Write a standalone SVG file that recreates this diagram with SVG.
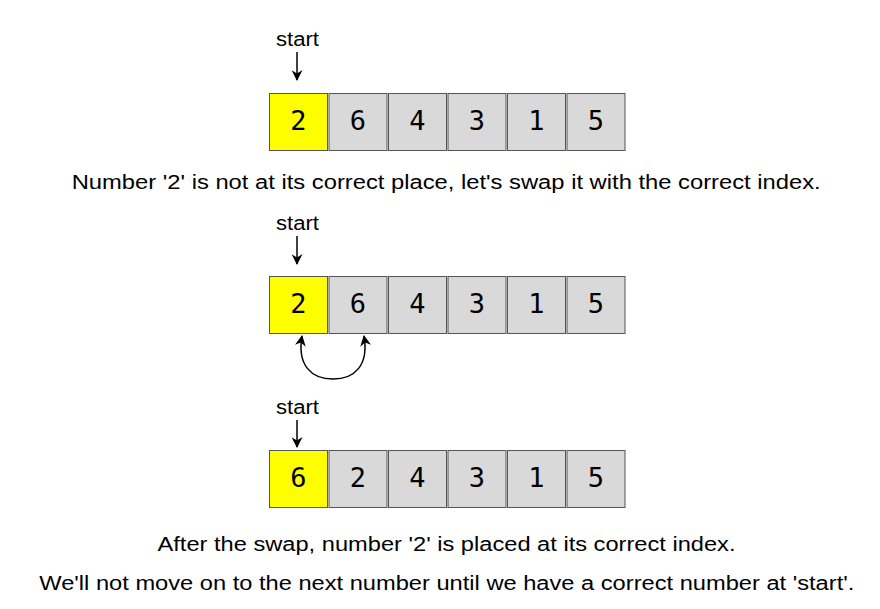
<svg xmlns="http://www.w3.org/2000/svg" width="880" height="609" viewBox="0 0 880 609">
<style>
.cell{fill:#d9d9d9;stroke:#555;stroke-width:1}
.hl{fill:#ffff00}
.num{font-family:"DejaVu Sans Mono",monospace;font-size:27px;text-anchor:middle;fill:#000}
.lbl{font-family:"Liberation Sans",Arial,sans-serif;font-size:20px;text-anchor:middle;fill:#000}
.ln{fill:none;stroke:#000;stroke-width:1.5}
</style>
<defs>
<marker id="ah" viewBox="0 0 10 10" refX="9" refY="5" markerWidth="12" markerHeight="11" orient="auto" markerUnits="userSpaceOnUse">
<path d="M0,0 L10,5 L0,10 L3,5 Z" fill="#000"/>
</marker>
</defs>
<rect width="880" height="609" fill="#fff"/>
<g id="row1">
<rect class="cell hl" x="269.5" y="93.5" width="58" height="57"/><text class="num" x="298.5" y="129.5">2</text>
<rect class="cell" x="329" y="93.5" width="58" height="57"/><text class="num" x="358" y="129.5">6</text>
<rect class="cell" x="388.5" y="93.5" width="58" height="57"/><text class="num" x="417.5" y="129.5">4</text>
<rect class="cell" x="448" y="93.5" width="58" height="57"/><text class="num" x="477" y="129.5">3</text>
<rect class="cell" x="507.5" y="93.5" width="58" height="57"/><text class="num" x="536.5" y="129.5">1</text>
<rect class="cell" x="567" y="93.5" width="58" height="57"/><text class="num" x="596" y="129.5">5</text>
</g>
<g id="row2">
<rect class="cell hl" x="269.5" y="276.5" width="58" height="57"/><text class="num" x="298.5" y="312.5">2</text>
<rect class="cell" x="329" y="276.5" width="58" height="57"/><text class="num" x="358" y="312.5">6</text>
<rect class="cell" x="388.5" y="276.5" width="58" height="57"/><text class="num" x="417.5" y="312.5">4</text>
<rect class="cell" x="448" y="276.5" width="58" height="57"/><text class="num" x="477" y="312.5">3</text>
<rect class="cell" x="507.5" y="276.5" width="58" height="57"/><text class="num" x="536.5" y="312.5">1</text>
<rect class="cell" x="567" y="276.5" width="58" height="57"/><text class="num" x="596" y="312.5">5</text>
</g>
<g id="row3">
<rect class="cell hl" x="269.5" y="450.5" width="58" height="57"/><text class="num" x="298.5" y="486.5">6</text>
<rect class="cell" x="329" y="450.5" width="58" height="57"/><text class="num" x="358" y="486.5">2</text>
<rect class="cell" x="388.5" y="450.5" width="58" height="57"/><text class="num" x="417.5" y="486.5">4</text>
<rect class="cell" x="448" y="450.5" width="58" height="57"/><text class="num" x="477" y="486.5">3</text>
<rect class="cell" x="507.5" y="450.5" width="58" height="57"/><text class="num" x="536.5" y="486.5">1</text>
<rect class="cell" x="567" y="450.5" width="58" height="57"/><text class="num" x="596" y="486.5">5</text>
</g>
<g id="labels">
<text class="lbl" x="297.5" y="45.5" textLength="43" lengthAdjust="spacingAndGlyphs">start</text>
<text class="lbl" x="297.5" y="229.5" textLength="43" lengthAdjust="spacingAndGlyphs">start</text>
<text class="lbl" x="297.5" y="413.5" textLength="43" lengthAdjust="spacingAndGlyphs">start</text>
<text class="lbl" x="446.2" y="189.3" textLength="749" lengthAdjust="spacingAndGlyphs">Number '2' is not at its correct place, let's swap it with the correct index.</text>
<text class="lbl" x="446.5" y="550.5" textLength="578" lengthAdjust="spacingAndGlyphs">After the swap, number '2' is placed at its correct index.</text>
<text class="lbl" x="446.8" y="589.5" textLength="815" lengthAdjust="spacingAndGlyphs">We'll not move on to the next number until we have a correct number at 'start'.</text>
</g>
<g id="connectors">
<path class="ln" d="M297,52 V80" marker-end="url(#ah)"/>
<path class="ln" d="M297,236 V264" marker-end="url(#ah)"/>
<path class="ln" d="M297,420 V447" marker-end="url(#ah)"/>
<path class="ln" d="M333,379 C311,379 297,365 302,336" marker-end="url(#ah)"/>
<path class="ln" d="M333,379 C355,379 369,365 364,336" marker-end="url(#ah)"/>
</g>
</svg>
